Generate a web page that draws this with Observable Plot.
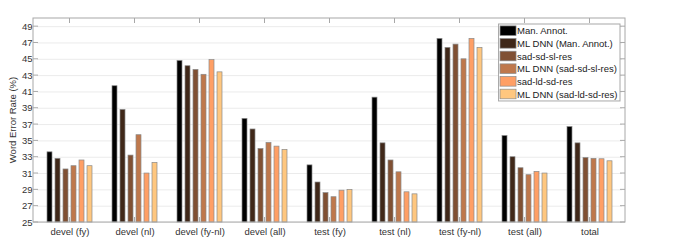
<!DOCTYPE html>
<html><head><meta charset="utf-8">
<script src="https://cdn.jsdelivr.net/npm/d3@7"></script>
<script src="https://cdn.jsdelivr.net/npm/@observablehq/plot@0.6"></script>
<style>body{margin:0;background:#fff} #chart{width:698px;height:243px}</style>
</head><body><div id="chart"></div><script>
const categories = ["devel (fy)", "devel (nl)", "devel (fy-nl)", "devel (all)", "test (fy)", "test (nl)", "test (fy-nl)", "test (all)", "total"];
const series = ["Man. Annot.", "ML DNN (Man. Annot.)", "sad-sd-sl-res", "ML DNN (sad-sd-sl-res)", "sad-ld-sd-res", "ML DNN (sad-ld-sd-res)"];
const colors = ["#000000", "#402819", "#805033", "#bf784c", "#ff9f65", "#ffc77f"];
const manAnnot      = [33.6, 41.7, 44.8, 37.7, 32.0, 40.3, 47.5, 35.6, 36.7];
const mlDnnManAnnot = [32.8, 38.8, 44.15, 36.4, 29.9, 34.7, 46.4, 33.0, 34.7];
const sadSdSlRes    = [31.5, 33.2, 43.7, 34.0, 28.6, 32.6, 46.8, 31.65, 32.9];
const mlDnnSadSdSl  = [31.9, 35.7, 43.1, 34.75, 28.1, 31.15, 45.0, 30.8, 32.8];
const sadLdSdRes    = [32.6, 31.0, 44.9, 34.3, 28.9, 28.7, 47.5, 31.2, 32.75];
const mlDnnSadLdSd  = [31.9, 32.3, 43.4, 33.9, 29.0, 28.45, 46.4, 31.0, 32.5];
const yTicks = [25, 27, 29, 31, 33, 35, 37, 39, 41, 43, 45, 47, 49];
const yDomain = [25, 50];
const yLabel = "Word Error Rate (%)";

const seriesValues = [manAnnot, mlDnnManAnnot, sadSdSlRes, mlDnnSadSdSl, sadLdSdRes, mlDnnSadLdSd];
const data = [];
seriesValues.forEach((vals, si) => vals.forEach((v, ci) => data.push({category: categories[ci], series: series[si], value: v})));

const FONT = "'Liberation Sans', Arial, Helvetica, sans-serif";
const plot = Plot.plot({
  width: 698, height: 243,
  marginLeft: 33, marginRight: 73, marginTop: 18, marginBottom: 21,
  style: {fontFamily: FONT, fontSize: "9.5px", color: "#333", background: "#fff", overflow: "visible"},
  fx: {domain: categories, padding: 0, label: null, axis: "bottom", tickSize: 0, tickPadding: 6},
  x: {domain: series, paddingInner: 0.32, paddingOuter: 0.93, axis: null},
  y: {domain: yDomain, ticks: yTicks, tickSize: 0, tickPadding: 5, label: null},
  color: {domain: series, range: colors},
  marks: [
    Plot.gridY(yTicks, {stroke: "#ebebeb", strokeOpacity: 1}),
    Plot.barY(data, {fx: "category", x: "series", y1: () => yDomain[0], y2: "value", fill: "series", stroke: "#8a8a8a", strokeWidth: 0.7})
  ]
});
document.getElementById("chart").appendChild(plot);

(function decorate() {
  const svg = d3.select(plot);
  const fx = plot.scale("fx"), y = plot.scale("y");
  const [x0, x1] = fx.range;
  const [yb, yt] = y.range;
  const frameColor = "#a8a8a8";
  const deco = svg.append("g").attr("stroke", frameColor).attr("fill", "none");
  deco.append("rect").attr("x", x0).attr("y", yt).attr("width", x1 - x0).attr("height", yb - yt);
  yTicks.forEach(t => {
    const yy = y.apply(t);
    deco.append("line").attr("x1", x0).attr("x2", x0 + 5).attr("y1", yy).attr("y2", yy);
    deco.append("line").attr("x1", x1 - 5).attr("x2", x1).attr("y1", yy).attr("y2", yy);
  });
  categories.forEach(c => {
    const xx = fx.apply(c) + fx.bandwidth / 2;
    deco.append("line").attr("x1", xx).attr("x2", xx).attr("y1", yt).attr("y2", yt + 5);
    deco.append("line").attr("x1", xx).attr("x2", xx).attr("y1", yb).attr("y2", yb - 5);
  });

  svg.append("text").text(yLabel)
    .attr("transform", `translate(12,${(yb + yt) / 2}) rotate(-90)`)
    .attr("text-anchor", "middle").attr("dominant-baseline", "central")
    .attr("font-family", FONT).attr("font-size", "9.5px").attr("fill", "#333");

  const lg = svg.append("g");
  const box = lg.append("rect").attr("fill", "#fff").attr("stroke", frameColor);
  const rowStep = 12.66, lgRight = x1 - 5, lgTop = yt + 6;
  const texts = series.map((s, i) => lg.append("text").text(s)
    .attr("y", lgTop + 6.7 + i * rowStep).attr("dominant-baseline", "central")
    .attr("text-anchor", "start")
    .attr("font-family", FONT).attr("font-size", "9.5px").attr("fill", "#222"));
  const maxW = d3.max(texts, t => t.node().getComputedTextLength());
  const lgLeft = lgRight - (18.5 + maxW + 2.5);
  texts.forEach(t => t.attr("x", lgLeft + 18.5));
  series.forEach((s, i) => lg.append("rect")
    .attr("x", lgLeft + 1.5).attr("y", lgTop + 6.7 + i * rowStep - 4.8)
    .attr("width", 16).attr("height", 9.6)
    .attr("fill", colors[i]).attr("stroke", "#8a8a8a").attr("stroke-width", 0.7));
  box.attr("x", lgLeft).attr("y", lgTop).attr("width", lgRight - lgLeft).attr("height", 6 * rowStep + 1);
})();
</script></body></html>
